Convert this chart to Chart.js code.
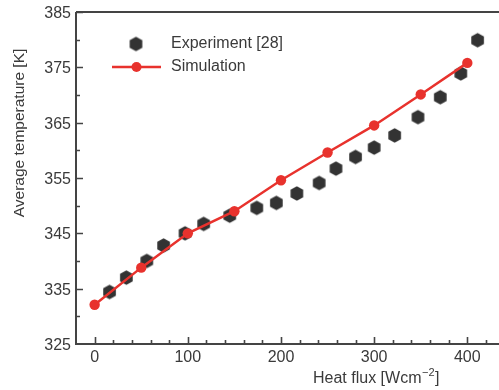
<!DOCTYPE html>
<html>
<head>
<meta charset="utf-8">
<script src="https://cdn.jsdelivr.net/npm/chart.js@4"></script>
<style>
  html, body { margin: 0; padding: 0; background: #fff; overflow: hidden; }
  #wrap { width: 499px; height: 390px; }
</style>
</head>
<body>
<div id="wrap"><canvas id="chart" width="499" height="390"></canvas></div>
<script>
// Experiment [28]
const expFlux = [16, 34, 56, 74, 97, 117, 145, 174, 195, 217, 241, 259, 280, 300, 322, 347, 371, 393, 411];
const expTemp = [334.4, 337.0, 340.0, 342.8, 345.0, 346.7, 348.2, 349.6, 350.5, 352.2, 354.1, 356.7, 358.8, 360.5, 362.7, 366.0, 369.6, 373.9, 379.9];

// Simulation
const simFlux = [0, 50, 100, 150, 200, 250, 300, 350, 400];
const simTemp = [332.1, 338.8, 345.0, 349.0, 354.6, 359.6, 364.5, 370.1, 375.8];

const xTickLabels = [0, 100, 200, 300, 400];
const yTickLabels = [325, 335, 345, 355, 365, 375, 385];
const xMinorTicks = [20, 40, 60, 80, 120, 140, 160, 180, 220, 240, 260, 280, 320, 340, 360, 380, 420];
const yMinorTicks = [330, 340, 350, 360, 370, 380];

const TEXT = "#3a3a3a";
const AXIS = "#444";
const RED = "#e8322d";
const DARK = "#333";
const FONT = '"Liberation Sans", Arial, sans-serif';

// hexagon marker (pointy top)
function makeHex(r, color) {
  const c = document.createElement("canvas");
  const w = Math.ceil(r * Math.sqrt(3)) + 2, h = Math.ceil(r * 2) + 2;
  c.width = w; c.height = h;
  const g = c.getContext("2d");
  g.fillStyle = color;
  g.beginPath();
  for (let i = 0; i < 6; i++) {
    const a = Math.PI / 2 + i * Math.PI / 3;
    const px = w / 2 + r * Math.cos(a), py = h / 2 + r * Math.sin(a);
    i === 0 ? g.moveTo(px, py) : g.lineTo(px, py);
  }
  g.closePath();
  g.fill();
  return c;
}
const hex = makeHex(7.3, DARK);

const decor = {
  id: "decor",
  afterDraw(chart) {
    const { ctx, chartArea: a, scales: { x, y } } = chart;
    ctx.save();
    ctx.strokeStyle = AXIS;
    ctx.lineCap = "butt";

    // frame: left, bottom, top
    ctx.lineWidth = 2;
    ctx.beginPath();
    ctx.moveTo(a.left, a.top); ctx.lineTo(a.right, a.top);
    ctx.moveTo(a.left, a.top); ctx.lineTo(a.left, a.bottom);
    ctx.moveTo(a.left - 1, a.bottom); ctx.lineTo(a.right, a.bottom);
    ctx.stroke();

    // inward ticks
    ctx.lineWidth = 1.6;
    ctx.beginPath();
    yTickLabels.forEach((v) => {
      const py = Math.round(y.getPixelForValue(v)) + 0.5;
      if (v === yTickLabels[0]) return;
      ctx.moveTo(a.left, py); ctx.lineTo(a.left + 7, py);
    });
    yMinorTicks.forEach((v) => {
      const py = Math.round(y.getPixelForValue(v)) + 0.5;
      ctx.moveTo(a.left, py); ctx.lineTo(a.left + 4, py);
    });
    xTickLabels.forEach((v) => {
      const px = Math.round(x.getPixelForValue(v)) + 0.5;
      ctx.moveTo(px, a.bottom); ctx.lineTo(px, a.bottom - 7);
    });
    xMinorTicks.forEach((v) => {
      const px = Math.round(x.getPixelForValue(v)) + 0.5;
      ctx.moveTo(px, a.bottom); ctx.lineTo(px, a.bottom - 4);
    });
    ctx.stroke();

    // tick labels
    ctx.fillStyle = TEXT;
    ctx.font = "16px " + FONT;
    ctx.textBaseline = "middle";
    ctx.textAlign = "right";
    yTickLabels.forEach((v) => ctx.fillText(String(v), a.left - 5, y.getPixelForValue(v) + 1.5));
    ctx.textAlign = "center";
    xTickLabels.forEach((v) => ctx.fillText(String(v), x.getPixelForValue(v), a.bottom + 14));

    // axis titles
    ctx.save();
    ctx.translate(20, 133);
    ctx.rotate(-Math.PI / 2);
    ctx.font = "15.5px " + FONT;
    ctx.textAlign = "center";
    ctx.textBaseline = "middle";
    ctx.fillText("Average temperature [K]", 0, 0);
    ctx.restore();

    ctx.textAlign = "left";
    ctx.textBaseline = "alphabetic";
    let tx = 313;
    const base = 383;
    ctx.font = "16px " + FONT;
    const t1 = "Heat flux [Wcm";
    ctx.fillText(t1, tx, base);
    tx += ctx.measureText(t1).width + 0.5;
    ctx.font = "11px " + FONT;
    ctx.fillText("\u22122", tx, base - 7);
    tx += ctx.measureText("\u22122").width + 0.5;
    ctx.font = "16px " + FONT;
    ctx.fillText("]", tx, base);

    // legend
    ctx.drawImage(hex, 136 - hex.width / 2, 44 - hex.height / 2);
    ctx.strokeStyle = RED;
    ctx.lineWidth = 2.5;
    ctx.beginPath();
    ctx.moveTo(112, 67); ctx.lineTo(161, 67);
    ctx.stroke();
    ctx.fillStyle = RED;
    ctx.beginPath();
    ctx.arc(136.5, 67, 5, 0, Math.PI * 2);
    ctx.fill();

    ctx.fillStyle = TEXT;
    ctx.font = "16px " + FONT;
    ctx.textBaseline = "middle";
    ctx.fillText("Experiment [28]", 171, 44);
    ctx.fillText("Simulation", 171, 67);
    ctx.restore();
  }
};

new Chart(document.getElementById("chart"), {
  type: "scatter",
  data: {
    datasets: [
      {
        label: "Simulation",
        data: simFlux.map((v, i) => ({ x: v, y: simTemp[i] })),
        showLine: true,
        borderColor: RED,
        backgroundColor: RED,
        borderWidth: 2.5,
        pointRadius: 5.2,
        pointBorderWidth: 0,
        tension: 0,
        order: 0
      },
      {
        label: "Experiment [28]",
        data: expFlux.map((v, i) => ({ x: v, y: expTemp[i] })),
        showLine: false,
        pointStyle: hex,
        backgroundColor: DARK,
        borderColor: DARK,
        order: 1
      }
    ]
  },
  options: {
    responsive: false,
    animation: false,
    devicePixelRatio: 1,
    layout: { autoPadding: false, padding: { top: 12, right: 0, left: 0, bottom: 0 } },
    plugins: { legend: { display: false }, tooltip: { enabled: false } },
    scales: {
      x: {
        type: "linear",
        min: -20,
        max: 434,
        grid: { display: false, drawTicks: false },
        border: { display: false },
        afterBuildTicks: (s) => { s.ticks = xTickLabels.map((v) => ({ value: v })); },
        afterFit: (s) => { s.height = 46; },
        ticks: { display: false }
      },
      y: {
        min: 325,
        max: 385,
        grid: { display: false, drawTicks: false },
        border: { display: false },
        afterBuildTicks: (s) => { s.ticks = yTickLabels.map((v) => ({ value: v })); },
        afterFit: (s) => { s.width = 76; },
        ticks: { display: false }
      }
    }
  },
  plugins: [decor]
});
</script>
</body>
</html>
